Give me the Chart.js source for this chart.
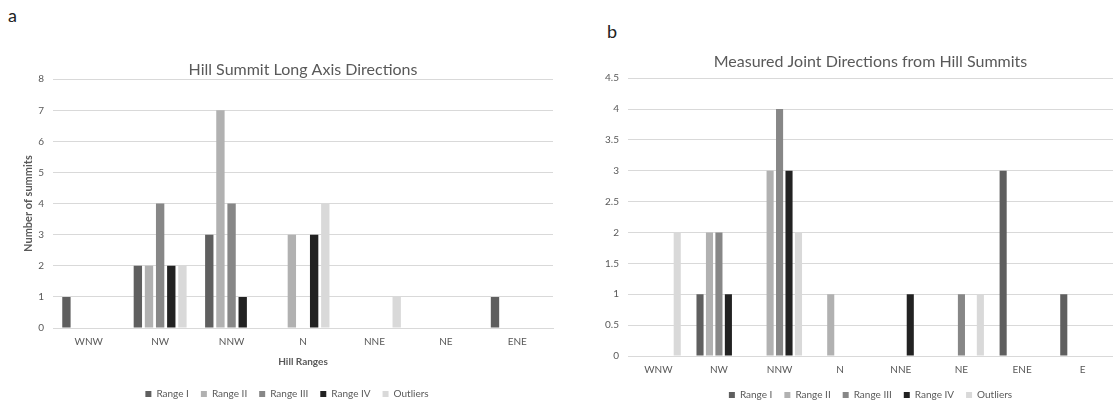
<!DOCTYPE html>
<html>
<head>
<meta charset="utf-8">
<script src="https://cdn.jsdelivr.net/npm/chart.js@4"></script>
<style>
  body { margin: 0; background: #fff; width: 1113px; height: 416px; overflow: hidden; position: relative; }
  .panel { position: absolute; top: 0; height: 416px; }
  .tag { position: absolute; font: 18px Lato, sans-serif; color: #222; line-height: 1; }
</style>
</head>
<body>
<div class="tag" style="left:8px;top:6px">a</div>
<div class="tag" style="left:607px;top:22px">b</div>
<div class="panel" style="left:0;width:570px"><canvas id="chartA"></canvas></div>
<div class="panel" style="left:580px;width:533px"><canvas id="chartB"></canvas></div>
<script>
// series shared by both panels
const seriesNames = ["Range I", "Range II", "Range III", "Range IV", "Outliers"];
const seriesColors = ["#5f5f5f", "#b1b1b1", "#878787", "#222222", "#d9d9d9"];

// panel a: hill summit long axis directions
const summitDirs = ["WNW", "NW", "NNW", "N", "NNE", "NE", "ENE"];
const summitRange1 = [1, 2, 3, 0, 0, 0, 1];
const summitRange2 = [0, 2, 7, 3, 0, 0, 0];
const summitRange3 = [0, 4, 4, 0, 0, 0, 0];
const summitRange4 = [0, 2, 1, 3, 0, 0, 0];
const summitOutliers = [0, 2, 0, 4, 1, 0, 0];

// panel b: measured joint directions
const jointDirs = ["WNW", "NW", "NNW", "N", "NNE", "NE", "ENE", "E"];
const jointRange1 = [0, 1, 0, 0, 0, 0, 3, 1];
const jointRange2 = [0, 2, 3, 1, 0, 0, 0, 0];
const jointRange3 = [0, 2, 4, 0, 0, 1, 0, 0];
const jointRange4 = [0, 1, 3, 0, 1, 0, 0, 0];
const jointOutliers = [2, 0, 2, 0, 0, 1, 0, 0];

Chart.defaults.font.family = "Lato, 'Open Sans', sans-serif";
Chart.defaults.color = "#595959";
Chart.defaults.animation = false;

function makeChart(id, labels, series, cfg) {
  new Chart(document.getElementById(id), {
    type: "bar",
    data: {
      labels: labels,
      datasets: series.map((vals, i) => ({
        label: seriesNames[i],
        data: vals,
        backgroundColor: seriesColors[i],
        categoryPercentage: 0.78,
        barPercentage: 0.75
      }))
    },
    options: {
      responsive: true,
      maintainAspectRatio: false,
      layout: { padding: cfg.padding },
      plugins: {
        tooltip: { enabled: false },
        title: {
          display: true,
          text: cfg.title,
          fullSize: false,
          color: "#595959",
          font: { size: 16, weight: "normal" },
          padding: cfg.titlePad
        },
        legend: {
          position: "bottom",
          fullSize: cfg.legendFull,
          labels: { boxWidth: 6, boxHeight: 6, padding: 12, font: { size: 10 }, color: "#595959" }
        }
      },
      scales: {
        x: {
          grid: { display: false, drawTicks: false },
          border: { color: "#d9d9d9" },
          ticks: { padding: cfg.xTickPad, font: { size: 10 } },
          title: {
            display: !!cfg.xTitle,
            text: cfg.xTitle || "",
            font: { size: 10, weight: "bold" },
            padding: { top: 0, bottom: 9 }
          },
          afterFit: s => { s.height = cfg.xHeight; }
        },
        y: {
          min: 0,
          max: cfg.yMax,
          ticks: { stepSize: cfg.yStep, padding: 9, font: { size: 10 }, callback: v => String(v) },
          grid: { color: "#d9d9d9", drawTicks: false },
          border: { display: false },
          title: {
            display: !!cfg.yTitle,
            text: cfg.yTitle || "",
            font: { size: 11, weight: "bold" },
            padding: { top: 1, bottom: 0 }
          },
          afterFit: s => { s.width = cfg.yWidth; }
        }
      }
    }
  });
}

makeChart("chartA", summitDirs,
  [summitRange1, summitRange2, summitRange3, summitRange4, summitOutliers], {
    title: "Hill Summit Long Axis Directions",
    titlePad: { top: 60, bottom: 0 },
    padding: { top: 0, right: 17, bottom: 7, left: 21 },
    legendFull: true,
    xTitle: "Hill Ranges",
    xTickPad: 8,
    xHeight: 49,
    yTitle: "Number of summits",
    yMax: 8, yStep: 1, yWidth: 32
  });

makeChart("chartB", jointDirs,
  [jointRange1, jointRange2, jointRange3, jointRange4, jointOutliers], {
    title: "Measured Joint Directions from Hill Summits",
    titlePad: { top: 52, bottom: 7 },
    padding: { top: 0, right: 0, bottom: 6, left: 0 },
    legendFull: false,
    xTitle: "",
    xTickPad: 8,
    xHeight: 22,
    yTitle: "",
    yMax: 4.5, yStep: 0.5, yWidth: 48
  });
</script>
</body>
</html>
